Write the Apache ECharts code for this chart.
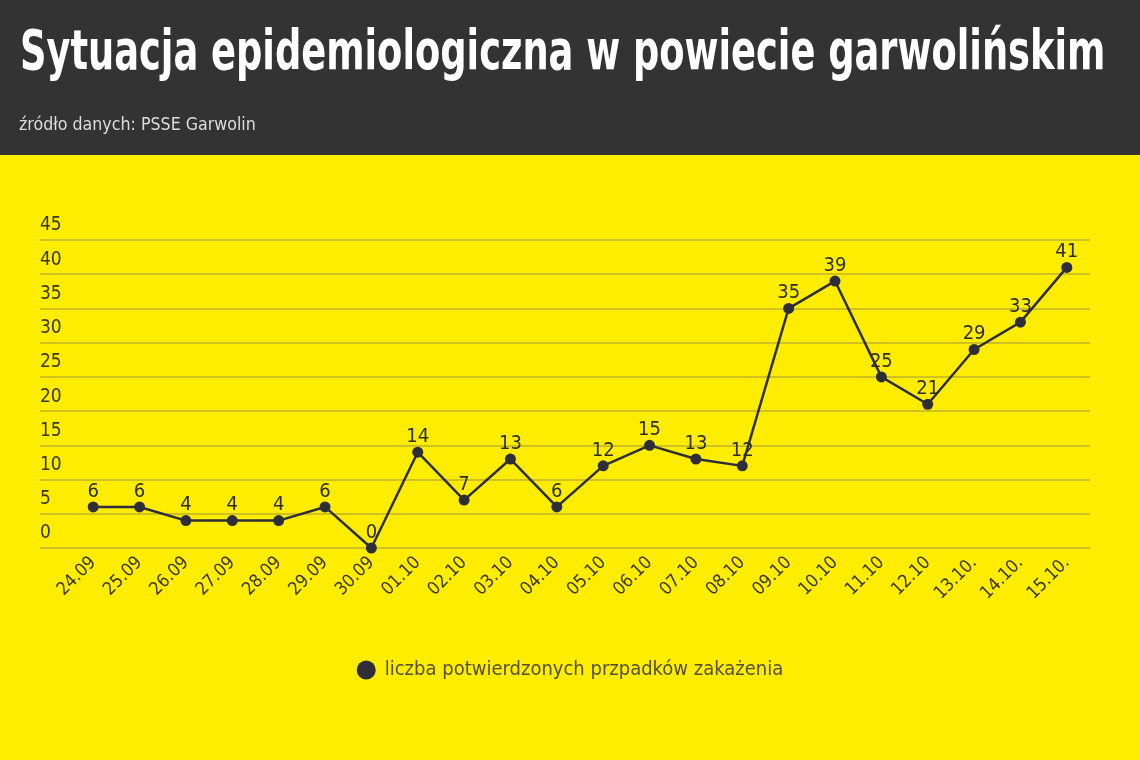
<!DOCTYPE html>
<html>
<head>
<meta charset="utf-8">
<script src="https://cdn.jsdelivr.net/npm/echarts@6/dist/echarts.min.js"></script>
<style>
html,body{margin:0;padding:0;background:#ffed00;}
#c{width:1140px;height:760px;}
</style>
</head>
<body>
<div id="c"></div>
<script>
const categories = ['24.09','25.09','26.09','27.09','28.09','29.09','30.09','01.10','02.10','03.10','04.10','05.10','06.10','07.10','08.10','09.10','10.10','11.10','12.10','13.10.','14.10.','15.10.'];
const cases = [6,6,4,4,4,6,0,14,7,13,6,12,15,13,12,35,39,25,21,29,33,41];
const seriesName = 'liczba potwierdzonych przpadków zakażenia';
const titleText = 'Sytuacja epidemiologiczna w powiecie garwolińskim';
const subtitleText = 'źródło danych: PSSE Garwolin';

const FONT = "'DejaVu Sans Condensed', 'Noto Sans', sans-serif";
const chart = echarts.init(document.getElementById('c'));
const textColor = '#3a381c';
chart.setOption({
  backgroundColor: '#ffed00',
  animation: false,
  graphic: [{
    type: 'rect', left: 0, top: 0, z: -1,
    shape: {width: 1140, height: 155},
    style: {fill: '#333333'}
  }, {
    type: 'text', x: 20, y: 26, scaleX: 0.73, scaleY: 1,
    style: {text: titleText, fill: '#ffffff', font: "bold 56px 'DejaVu Sans Condensed', sans-serif", textVerticalAlign: 'top'}
  }, {
    type: 'text', x: 19, y: 116, scaleX: 0.98,
    style: {text: subtitleText, fill: '#dddddd', font: "18px 'DejaVu Sans Condensed', sans-serif", textVerticalAlign: 'top'}
  }],
  legend: {
    data: [seriesName], left: 'center', top: 655,
    icon: 'circle', itemWidth: 19, itemHeight: 19, itemGap: 10,
    textStyle: {color: '#555035', fontSize: 20, fontFamily: FONT, padding: [0,0,0,4]}
  },
  grid: [
    {left: 40, right: 50, top: 240, bottom: 212},
    {left: 70, right: 50, top: 240, bottom: 212}
  ],
  xAxis: [{
    gridIndex: 0, type: 'category', data: categories, show: false
  }, {
    gridIndex: 1, type: 'category', data: categories, boundaryGap: true,
    axisLine: {show: false}, axisTick: {show: false},
    axisLabel: {rotate: 45, interval: 0, margin: 12, color: textColor, fontSize: 18, fontFamily: FONT}
  }],
  yAxis: [{
    gridIndex: 0, type: 'value', min: 0, max: 45, interval: 5,
    axisLine: {show: false}, axisTick: {show: false},
    splitLine: {lineStyle: {color: '#cfc120', width: 2}},
    axisLabel: {align: 'left', margin: 0, verticalAlign: 'bottom', padding: [0,0,5,0], color: textColor, fontSize: 19, fontFamily: FONT}
  }, {
    gridIndex: 1, type: 'value', min: 0, max: 45, interval: 5, show: false,
    splitLine: {show: false}
  }],
  series: [{
    name: seriesName, type: 'line', xAxisIndex: 1, yAxisIndex: 1,
    data: cases,
    symbol: 'circle', symbolSize: 11,
    itemStyle: {color: '#2e2e38'},
    lineStyle: {color: '#2e2e38', width: 2.5},
    label: {show: true, position: 'top', distance: 0, color: '#2e2e28', fontSize: 20, fontFamily: FONT}
  }]
});
</script>
</body>
</html>
